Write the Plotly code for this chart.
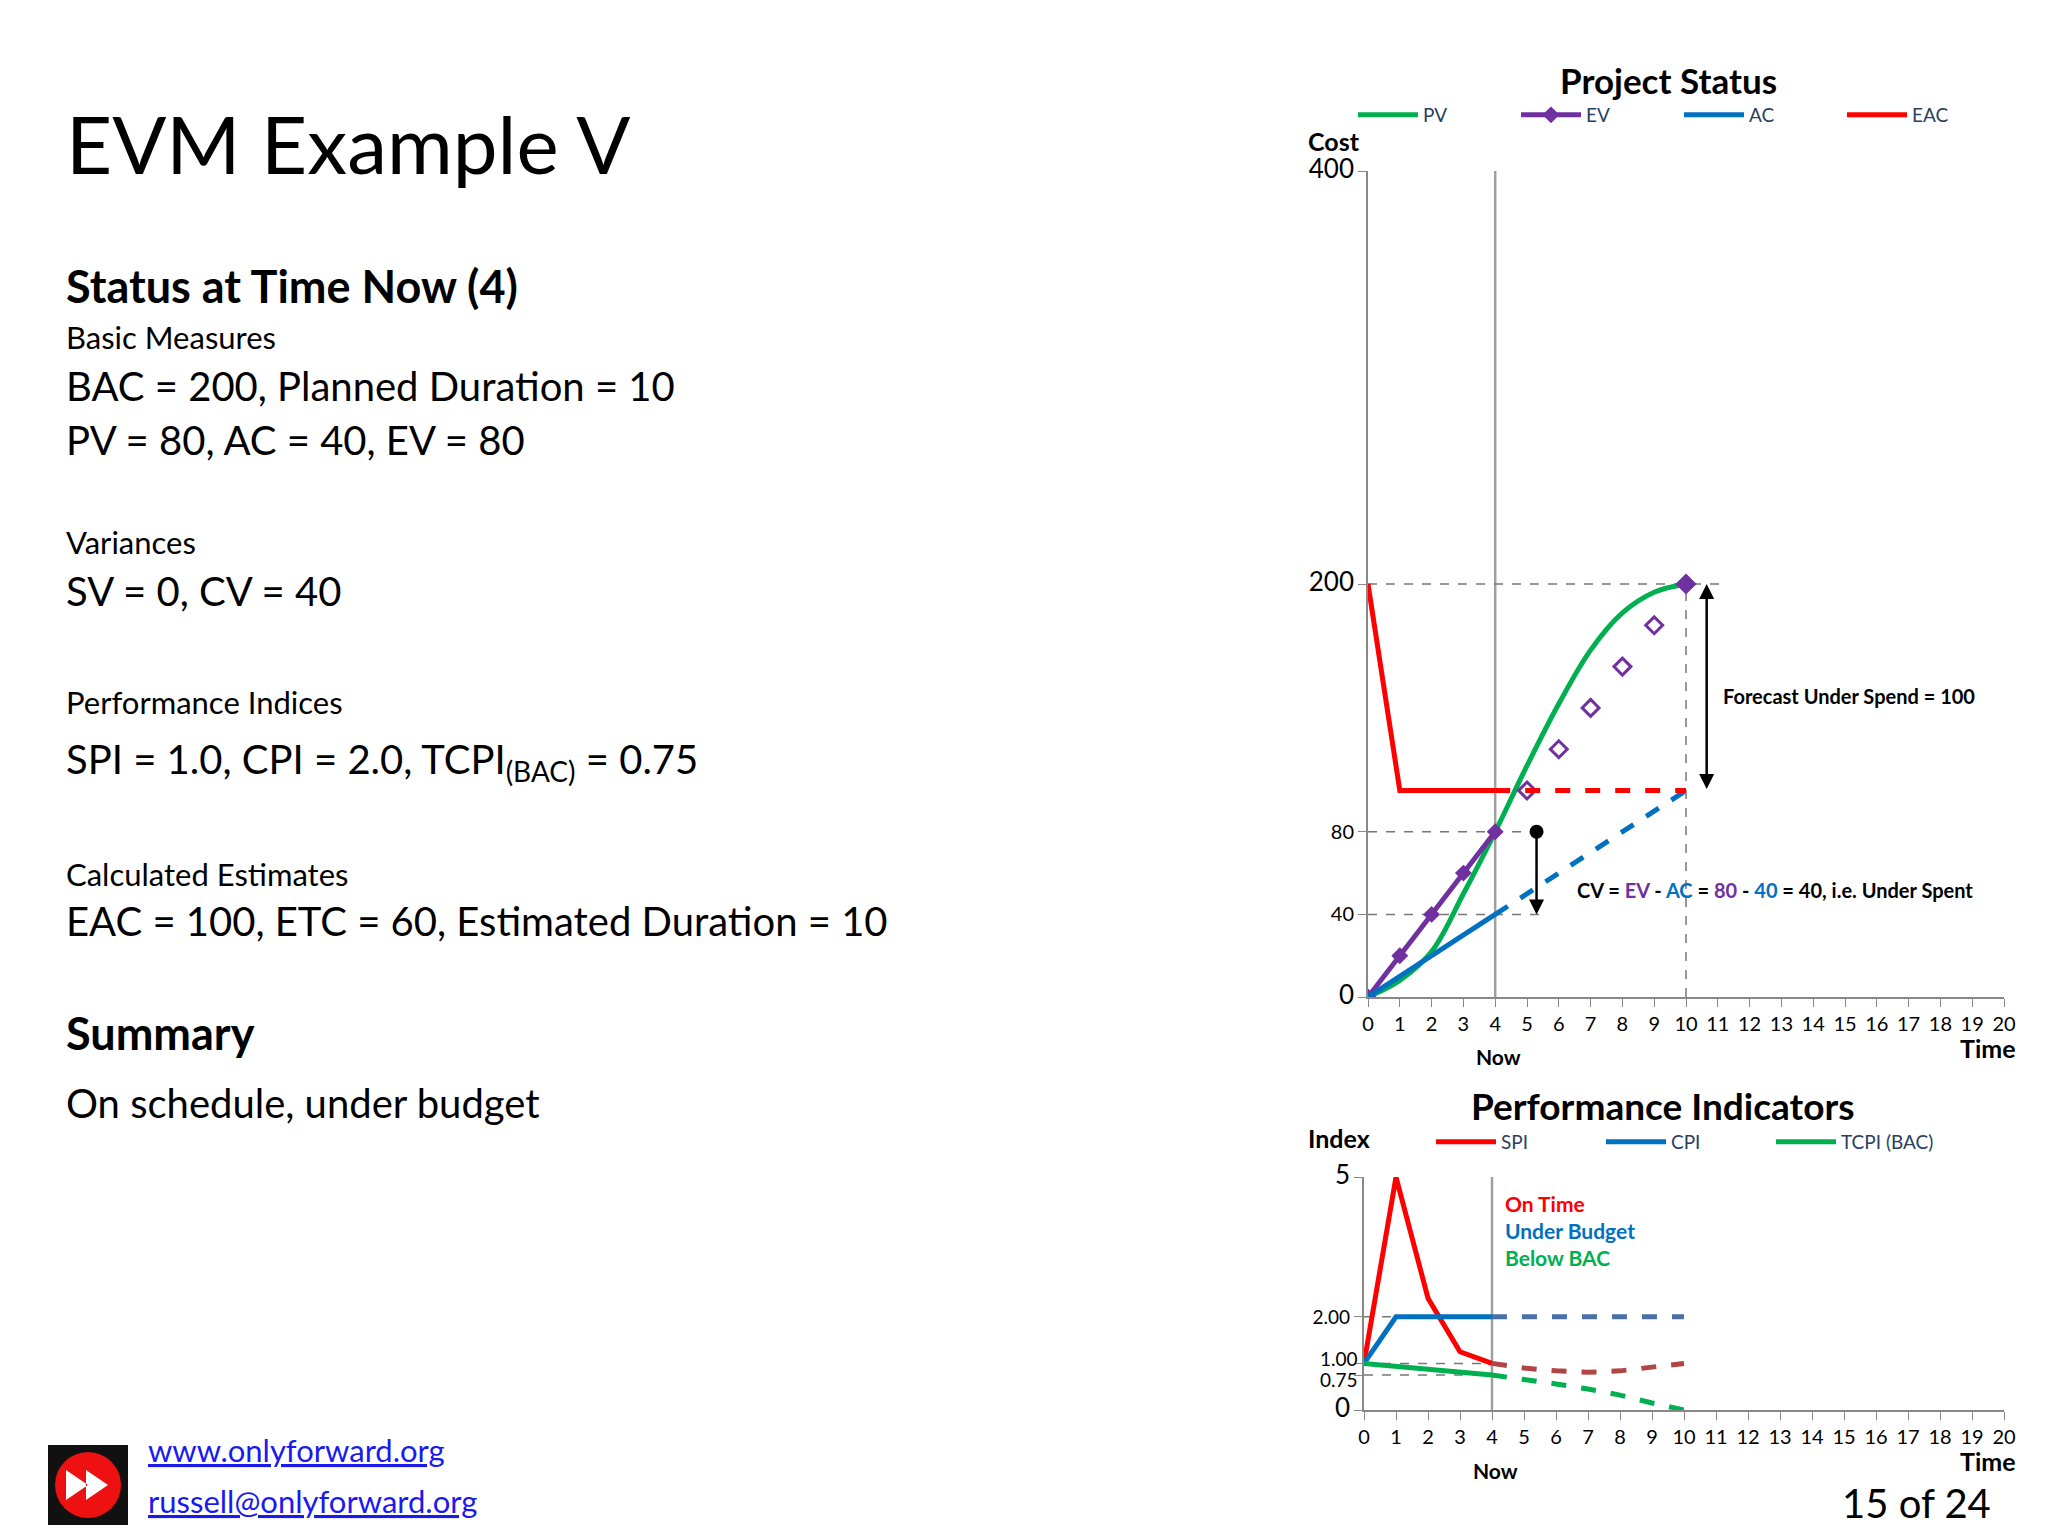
import plotly.graph_objects as go

W, H = 2048, 1536
FONT = "Lato"

# ---- Project status data ----
pv_t = [0, 1, 2, 3, 4, 5, 6, 7, 8, 9, 10]
pv_v = [0, 8, 22, 50, 80, 112, 142, 168, 186, 196, 200]
ev_t = [0, 1, 2, 3, 4]
ev_v = [0, 20, 40, 60, 80]
ev_fc_t = [5, 6, 7, 8, 9, 10]
ev_fc_v = [100, 120, 140, 160, 180, 200]
ac_t = [0, 1, 2, 3, 4]
ac_v = [0, 10, 20, 30, 40]
ac_fc_t = [4, 10]
ac_fc_v = [40, 100]
eac_t = [0, 1, 2, 3, 4]
eac_v = [200, 100, 100, 100, 100]
eac_fc_t = [4, 10]
eac_fc_v = [100, 100]
cost_ticks = [0, 40, 80, 200, 400]

# ---- Performance indicators ----
spi_t = [0, 1, 2, 3, 4]
spi_v = [1.0, 5.0, 2.4, 1.25, 1.0]
spi_fc_t = [4, 5, 6, 7, 8, 9, 10]
spi_fc_v = [1.0, 0.9, 0.84, 0.81, 0.84, 0.92, 1.0]
cpi_t = [0, 1, 2, 3, 4]
cpi_v = [1.0, 2.0, 2.0, 2.0, 2.0]
cpi_fc_t = [4, 10]
cpi_fc_v = [2.0, 2.0]
tcpi_t = [0, 1, 2, 3, 4]
tcpi_v = [1.0, 0.94, 0.88, 0.82, 0.75]
tcpi_fc_t = [4, 5, 6, 7, 8, 9, 10]
tcpi_fc_v = [0.75, 0.66, 0.56, 0.45, 0.32, 0.15, 0.0]
index_ticks = [0, 0.75, 1.0, 2.0, 5]
index_tick_text = ["0", "0.75", "1.00", "2.00", "5"]
time_ticks = list(range(0, 21))

GREEN = "#00b050"
PURPLE = "#7030a0"
BLUE = "#0070c0"
RED = "#ff0000"
GREY = "#a0a0a0"

fig = go.Figure()

fig.add_trace(go.Scatter(x=pv_t, y=pv_v, mode="lines", line=dict(color=GREEN, width=5, shape="spline"),
                         name="PV", legend="legend"))
fig.add_trace(go.Scatter(x=ev_t, y=ev_v, mode="lines+markers", line=dict(color=PURPLE, width=5),
                         marker=dict(symbol="diamond", size=13, color=PURPLE), name="EV", legend="legend"))
fig.add_trace(go.Scatter(x=ev_fc_t, y=ev_fc_v, mode="markers",
                         marker=dict(symbol="diamond-open", size=13, color=PURPLE, line=dict(width=3, color=PURPLE)),
                         showlegend=False))
fig.add_trace(go.Scatter(x=ac_t, y=ac_v, mode="lines", line=dict(color=BLUE, width=5), name="AC", legend="legend"))
fig.add_trace(go.Scatter(x=ac_fc_t, y=ac_fc_v, mode="lines", line=dict(color=BLUE, width=5, dash="dash"),
                         showlegend=False))
fig.add_trace(go.Scatter(x=eac_t, y=eac_v, mode="lines", line=dict(color=RED, width=5), name="EAC", legend="legend"))
fig.add_trace(go.Scatter(x=eac_fc_t, y=eac_fc_v, mode="lines", line=dict(color=RED, width=5, dash="dash"),
                         showlegend=False))
fig.add_trace(go.Scatter(x=[10], y=[200], mode="markers",
                         marker=dict(symbol="diamond", size=14, color=PURPLE), showlegend=False))
fig.add_trace(go.Scatter(x=[5.3], y=[80], mode="markers", marker=dict(size=14, color="black"), showlegend=False))

fig.add_trace(go.Scatter(x=spi_t, y=spi_v, mode="lines", line=dict(color=RED, width=5), name="SPI",
                         xaxis="x2", yaxis="y2", legend="legend2"))
fig.add_trace(go.Scatter(x=spi_fc_t, y=spi_fc_v, mode="lines", line=dict(color="#b04545", width=5, dash="dash"),
                         xaxis="x2", yaxis="y2", showlegend=False))
fig.add_trace(go.Scatter(x=cpi_t, y=cpi_v, mode="lines", line=dict(color=BLUE, width=5), name="CPI",
                         xaxis="x2", yaxis="y2", legend="legend2"))
fig.add_trace(go.Scatter(x=cpi_fc_t, y=cpi_fc_v, mode="lines", line=dict(color="#4a70a8", width=5, dash="dash"),
                         xaxis="x2", yaxis="y2", showlegend=False))
fig.add_trace(go.Scatter(x=tcpi_t, y=tcpi_v, mode="lines", line=dict(color=GREEN, width=5), name="TCPI (BAC)",
                         xaxis="x2", yaxis="y2", legend="legend2"))
fig.add_trace(go.Scatter(x=tcpi_fc_t, y=tcpi_fc_v, mode="lines", line=dict(color=GREEN, width=5, dash="dash"),
                         xaxis="x2", yaxis="y2", showlegend=False))

shapes = []
dash_ref = dict(color="#777777", width=1.5, dash="dash")
shapes += [
    dict(type="line", xref="x", yref="y", x0=4, x1=4, y0=0, y1=400, line=dict(color=GREY, width=2.5), layer="below"),
    dict(type="line", xref="x", yref="y", x0=0, x1=11.1, y0=200, y1=200, line=dash_ref, layer="below"),
    dict(type="line", xref="x", yref="y", x0=10, x1=10, y0=0, y1=200, line=dash_ref, layer="below"),
    dict(type="line", xref="x", yref="y", x0=0, x1=5.3, y0=80, y1=80, line=dash_ref, layer="below"),
    dict(type="line", xref="x", yref="y", x0=0, x1=5.5, y0=40, y1=40, line=dash_ref, layer="below"),
    dict(type="line", xref="x2", yref="y2", x0=4, x1=4, y0=0, y1=5.3, line=dict(color=GREY, width=2.5), layer="below"),
    dict(type="line", xref="x2", yref="y2", x0=0, x1=1, y0=2, y1=2, line=dash_ref, layer="below"),
    dict(type="line", xref="x2", yref="y2", x0=0, x1=4, y0=1, y1=1, line=dash_ref, layer="below"),
    dict(type="line", xref="x2", yref="y2", x0=0, x1=4, y0=0.75, y1=0.75, line=dash_ref, layer="below"),
]
shapes += [
    dict(type="rect", xref="paper", yref="paper", x0=40/W, x1=120/W, y0=1-1517/H, y1=1-1437/H,
         fillcolor="#111111", line=dict(width=0)),
    dict(type="circle", xref="paper", yref="paper", x0=47/W, x1=113/W, y0=1-1510/H, y1=1-1444/H,
         fillcolor="#ee1111", line=dict(width=0)),
    dict(type="path", xref="paper", yref="paper",
         path=f"M {58/W},{1-1462/H} L {80/W},{1-1477/H} L {58/W},{1-1492/H} Z "
              f"M {78/W},{1-1462/H} L {100/W},{1-1477/H} L {78/W},{1-1492/H} Z",
         fillcolor="white", line=dict(width=0)),
]

ann = []
def txt(x, y, s, size, bold=False, color="black", xanchor="left", yanchor="middle"):
    if bold:
        s = f"<b>{s}</b>"
    ann.append(dict(x=x/W, y=1-y/H, xref="paper", yref="paper", text=s, showarrow=False,
                    font=dict(family=FONT, size=size, color=color), xanchor=xanchor, yanchor=yanchor))

L = 56
txt(L, 135, "EVM Example V", 80)
txt(L, 278, "Status at Time Now (4)", 45, bold=True)
txt(L, 329, "Basic Measures", 31)
txt(L, 378, "BAC = 200, Planned Duration = 10", 40)
txt(L, 432, "PV = 80, AC = 40, EV = 80", 40)
txt(L, 534, "Variances", 31)
txt(L, 583, "SV = 0, CV = 40", 40)
txt(L, 694, "Performance Indices", 31)
txt(L, 753, "SPI = 1.0, CPI = 2.0, TCPI<sub>(BAC)</sub> = 0.75", 40)
txt(L, 866, "Calculated Estimates", 31)
txt(L, 913, "EAC = 100, ETC = 60, Estimated Duration = 10", 40)
txt(L, 1025, "Summary", 45, bold=True)
txt(L, 1095, "On schedule, under budget", 40)
txt(138, 1442, "<u>www.onlyforward.org</u>", 31, color="#1a1aee")
txt(138, 1493, "<u>russell@onlyforward.org</u>", 31, color="#1a1aee")
txt(1985, 1495, "15 of 24", 40, xanchor="right")

txt(1660, 72, "Project Status", 35, bold=True, xanchor="center")
txt(1298, 133, "Cost", 25, bold=True)
txt(1490, 1048, "Now", 21, bold=True, xanchor="center")
txt(2010, 1040, "Time", 25, bold=True, xanchor="right")
txt(1655, 1097, "Performance Indicators", 37, bold=True, xanchor="center")
txt(1298, 1130, "Index", 25, bold=True)
txt(1487, 1462, "Now", 21, bold=True, xanchor="center")
txt(2010, 1453, "Time", 25, bold=True, xanchor="right")
txt(1495, 1195, "On Time", 21, bold=True, color=RED)
txt(1495, 1222, "Under Budget", 21, bold=True, color=BLUE)
txt(1495, 1249, "Below BAC", 21, bold=True, color=GREEN)
txt(1352, 1350, "1.00", 19, xanchor="right")
txt(1352, 1371, "0.75", 19, xanchor="right")

ann.append(dict(x=10.65, y=200, ax=10.65, ay=100, xref="x", yref="y", axref="x", ayref="y",
                showarrow=True, arrowhead=2, startarrowhead=2, arrowside="end+start",
                arrowsize=1.2, arrowwidth=2.5, arrowcolor="black", text=""))
ann.append(dict(x=5.3, y=40, ax=5.3, ay=80, xref="x", yref="y", axref="x", ayref="y",
                showarrow=True, arrowhead=2, arrowsize=1.2, arrowwidth=2.5, arrowcolor="black", text=""))
ann.append(dict(x=11.1, y=146, xref="x", yref="y", showarrow=False, xanchor="left",
                text="<b>Forecast Under Spend = 100</b>", font=dict(family=FONT, size=20, color="black")))
ann.append(dict(x=6.5, y=52, xref="x", yref="y", showarrow=False, xanchor="left",
                text=f"<b>CV = <span style='color:{PURPLE}'>EV</span> - <span style='color:{BLUE}'>AC</span> = "
                     f"<span style='color:{PURPLE}'>80</span> - <span style='color:{BLUE}'>40</span> = 40, i.e. Under Spent</b>",
                font=dict(family=FONT, size=20, color="black")))

axis_common = dict(showgrid=False, zeroline=False, showline=True, linecolor="#888888", linewidth=2,
                   ticks="outside", tickcolor="#888888", ticklen=8, tickangle=0,
                   tickfont=dict(family=FONT, size=20, color="black"))

cost_text = [f"<span style='font-size:{26 if v in (0, 200, 400) else 20}px'>{v}</span>" for v in cost_ticks]
index_text = [f"<span style='font-size:{26 if t in ('0', '5') else 19}px'>{t}</span>"
              if t not in ("1.00", "0.75") else "" for t in index_tick_text]

fig.update_layout(
    width=W, height=H, margin=dict(l=0, r=0, t=0, b=0, autoexpand=False),
    paper_bgcolor="white", plot_bgcolor="white",
    xaxis=dict(domain=[1360/W, 1996/W], range=[0, 20], tickvals=time_ticks, **axis_common),
    yaxis=dict(domain=[1-989/H, 1-163/H], range=[0, 400], tickvals=cost_ticks, ticktext=cost_text,
               anchor="x", **axis_common),
    xaxis2=dict(domain=[1356/W, 1996/W], range=[0, 20], tickvals=time_ticks, anchor="y2", **axis_common),
    yaxis2=dict(domain=[1-1402/H, 1-1169/H], range=[0, 5], tickvals=index_ticks, ticktext=index_text,
                anchor="x2", **axis_common),
    legend=dict(orientation="h", x=1345/W, y=1-107/H, xanchor="left", yanchor="middle",
                entrywidth=88, entrywidthmode="pixels", itemwidth=60,
                font=dict(family=FONT, size=19), bgcolor="rgba(0,0,0,0)"),
    legend2=dict(orientation="h", x=1423/W, y=1-1134/H, xanchor="left", yanchor="middle",
                 entrywidth=95, entrywidthmode="pixels", itemwidth=60,
                 font=dict(family=FONT, size=19), bgcolor="rgba(0,0,0,0)"),
    shapes=shapes, annotations=ann, showlegend=True,
)

fig.write_html("out.html")
